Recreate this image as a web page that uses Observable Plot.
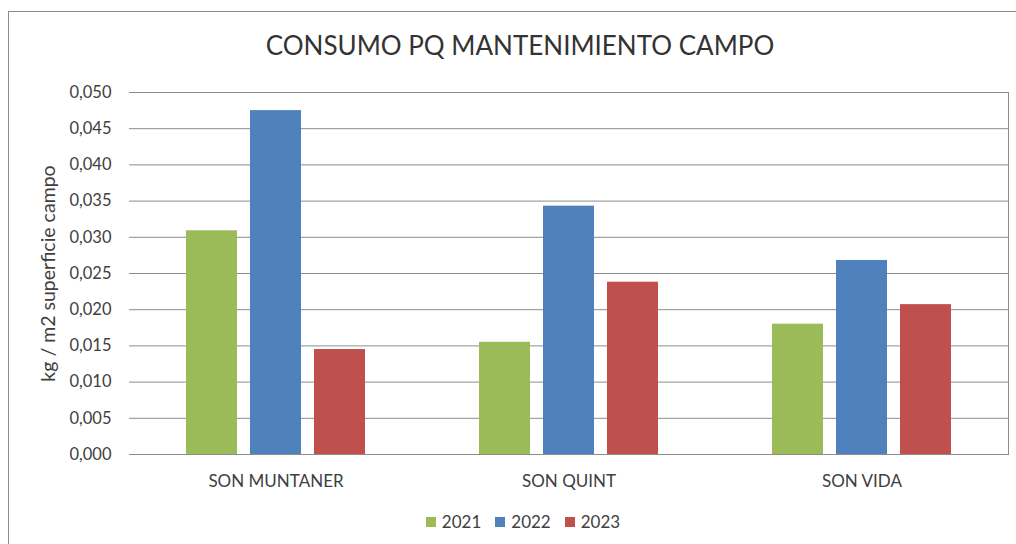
<!DOCTYPE html>
<html>
<head>
<meta charset="utf-8">
<script src="https://cdn.jsdelivr.net/npm/d3@7"></script>
<script src="https://cdn.jsdelivr.net/npm/@observablehq/plot@0.6"></script>
<style>
  html, body { margin: 0; padding: 0; background: #fff; }
  body { width: 1016px; height: 544px; position: relative; overflow: hidden; font-family: Lato, "Open Sans", sans-serif; color: #404040; }
  #frame { position: absolute; left: 8px; top: 11px; width: 1030px; height: 560px; border: 1px solid #8c8c8c; box-sizing: border-box; }
  #title { position: absolute; left: 0; top: 29px; width: 1040px; text-align: center; font-size: 26px; color: #333; white-space: nowrap; }
  #chart { position: absolute; left: 0; top: 80px; }
  #legend { position: absolute; left: 0; top: 511px; width: 1046px; display: flex; justify-content: center; gap: 14px; font-size: 17px; color: #404040; }
  #legend .item { display: flex; align-items: center; }
  #legend .sw { width: 10px; height: 10px; margin-right: 6px; display: inline-block; }
</style>
</head>
<body>
<div id="frame"></div>
<div id="title">CONSUMO PQ MANTENIMIENTO CAMPO</div>
<div id="chart"></div>
<div id="legend"></div>
<script>
const sites = ["SON MUNTANER", "SON QUINT", "SON VIDA"];
const years = ["2021", "2022", "2023"];
const colors = ["#9BBB59", "#4F81BD", "#C0504D"];
const values2021 = [0.0309, 0.0155, 0.0180];
const values2022 = [0.0475, 0.0343, 0.0268];
const values2023 = [0.0145, 0.0238, 0.0207];
const yTicks = [0, 0.005, 0.010, 0.015, 0.020, 0.025, 0.030, 0.035, 0.040, 0.045, 0.050];
const yLabel = "kg / m2 superficie campo";

const series = [values2021, values2022, values2023];
const data = [];
sites.forEach((s, i) => years.forEach((y, j) => data.push({site: s, year: y, value: series[j][i]})));

const fmt = d3.formatLocale({decimal: ",", thousands: ".", grouping: [3], currency: ["", "€"]}).format(".3f");
const firstSite = sites[0];
const lastSite = sites[sites.length - 1];

const chart = Plot.plot({
  width: 1016,
  height: 414,
  marginTop: 12,
  marginBottom: 40,
  marginLeft: 129,
  marginRight: 8,
  style: {fontFamily: "Lato, 'Open Sans', sans-serif", color: "#404040", background: "transparent"},
  fx: {domain: sites, paddingInner: 0, paddingOuter: 0, label: null},
  x: {domain: years, paddingInner: 0.21, paddingOuter: 0.876, axis: null},
  y: {domain: [0, 0.05], label: null},
  color: {domain: years, range: colors},
  marks: [
    Plot.ruleY(yTicks, {y: d => d, stroke: "#8c8c8c", strokeOpacity: 1, strokeWidth: 1}),
    Plot.frame({anchor: "right", stroke: "#8c8c8c", strokeOpacity: 1, fx: () => lastSite}),
    Plot.barY(data, {fx: "site", x: "year", y: "value", fill: "year"}),
    Plot.axisY({ticks: yTicks, tickFormat: fmt, tickSize: 0, tickPadding: 18, fontSize: 16.5, label: null}),
    Plot.axisFx({anchor: "bottom", tickSize: 0, tickPadding: 20, fontSize: 17, label: null}),
    Plot.text([yLabel], {frameAnchor: "left", textAnchor: "middle", dx: -81, rotate: -90, fontSize: 19.5, fill: "#404040", fx: () => firstSite, text: d => d})
  ]
});
document.getElementById("chart").appendChild(chart);

const legend = document.getElementById("legend");
years.forEach((y, i) => {
  const item = document.createElement("div");
  item.className = "item";
  const sw = document.createElement("span");
  sw.className = "sw";
  sw.style.background = colors[i];
  item.appendChild(sw);
  item.appendChild(document.createTextNode(y));
  legend.appendChild(item);
});
</script>
</body>
</html>
